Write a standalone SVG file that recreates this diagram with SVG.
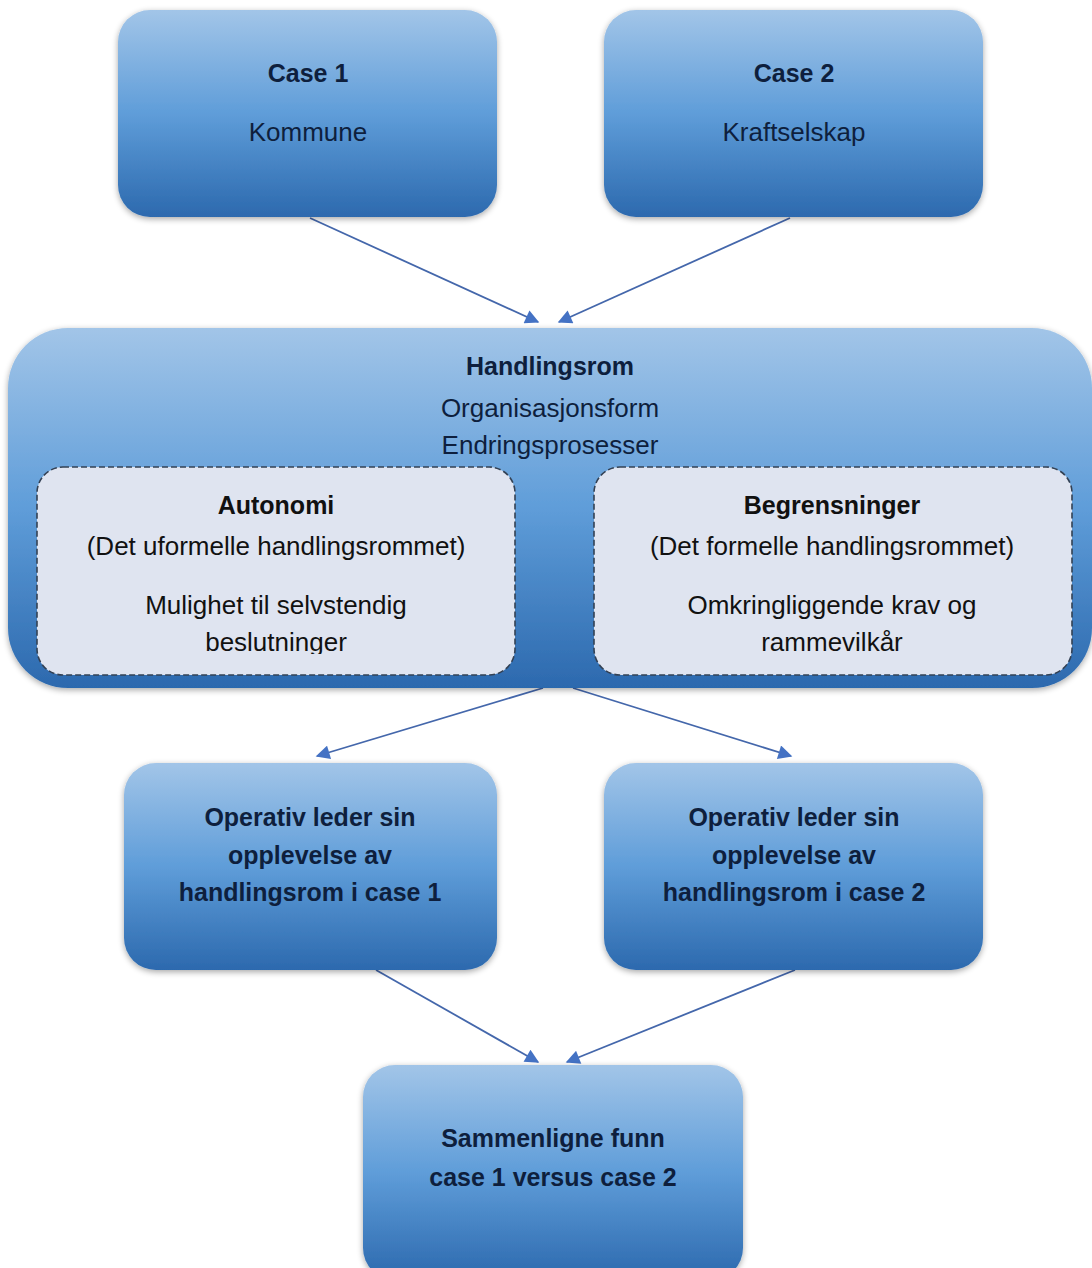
<svg xmlns="http://www.w3.org/2000/svg" width="1092" height="1268" viewBox="0 0 1092 1268">
<defs>
<linearGradient id="blue" x1="0" y1="0" x2="0" y2="1">
<stop offset="0" stop-color="#a2c5e8"/>
<stop offset="0.5" stop-color="#5f9dd9"/>
<stop offset="1" stop-color="#2c69ae"/>
</linearGradient>
<filter id="sh" x="-10%" y="-10%" width="120%" height="125%">
<feGaussianBlur in="SourceAlpha" stdDeviation="3"/>
<feOffset dx="0" dy="2"/>
<feComponentTransfer><feFuncA type="linear" slope="0.35"/></feComponentTransfer>
<feMerge><feMergeNode/><feMergeNode in="SourceGraphic"/></feMerge>
</filter>
<marker id="ah" viewBox="0 0 10 10" refX="9" refY="5" markerWidth="16" markerHeight="14" markerUnits="userSpaceOnUse" orient="auto">
<path d="M0,0 L10,5 L0,10 z" fill="#4472c4"/>
</marker>
<clipPath id="clipL"><rect x="37" y="467" width="478" height="187"/></clipPath>
<clipPath id="clipR"><rect x="594" y="467" width="478" height="187"/></clipPath>
<style>
.box{fill:url(#blue);filter:url(#sh);}
.inner{fill:#dfe4f0;stroke:#334154;stroke-width:1.6;stroke-dasharray:6 3;}
text{font-family:"Liberation Sans",Arial,sans-serif;font-size:26px;text-anchor:middle;}
.dk{fill:#0e1f3d;}
.bk{fill:#111;}
.b{font-weight:bold;font-size:25px;}
.conn{stroke:#4467ab;stroke-width:1.8;fill:none;marker-end:url(#ah);}
</style>
</defs>
<rect width="1092" height="1268" fill="#ffffff"/>
<g id="connectors">
<line class="conn" x1="310" y1="218" x2="538" y2="322"/>
<line class="conn" x1="790" y1="218" x2="559" y2="322"/>
<line class="conn" x1="543" y1="688" x2="317" y2="756"/>
<line class="conn" x1="573" y1="688" x2="791" y2="756"/>
<line class="conn" x1="376" y1="970" x2="538" y2="1062"/>
<line class="conn" x1="795" y1="970" x2="567" y2="1062"/>
</g>
<g id="case1">
<rect class="box" x="118" y="10" width="379" height="207" rx="32"/>
<text class="dk b" x="308" y="82">Case 1</text>
<text class="dk" x="308" y="141">Kommune</text>
</g>
<g id="case2">
<rect class="box" x="604" y="10" width="379" height="207" rx="32"/>
<text class="dk b" x="794" y="82">Case 2</text>
<text class="dk" x="794" y="141">Kraftselskap</text>
</g>
<g id="handlingsrom">
<rect class="box" x="8" y="328" width="1084" height="360" rx="60"/>
<text class="dk b" x="550" y="375">Handlingsrom</text>
<text class="dk" x="550" y="417">Organisasjonsform</text>
<text class="dk" x="550" y="454">Endringsprosesser</text>
</g>
<g id="autonomi">
<rect class="inner" x="37" y="467" width="478" height="208" rx="26"/>
<g clip-path="url(#clipL)">
<text class="bk b" x="276" y="514">Autonomi</text>
<text class="bk" x="276" y="555">(Det uformelle handlingsrommet)</text>
<text class="bk" x="276" y="614">Mulighet til selvstendig</text>
<text class="bk" x="276" y="651">beslutninger</text>
</g>
</g>
<g id="begrensninger">
<rect class="inner" x="594" y="467" width="478" height="208" rx="26"/>
<g clip-path="url(#clipR)">
<text class="bk b" x="832" y="514">Begrensninger</text>
<text class="bk" x="832" y="555">(Det formelle handlingsrommet)</text>
<text class="bk" x="832" y="614">Omkringliggende krav og</text>
<text class="bk" x="832" y="651">rammevilkår</text>
</g>
</g>
<g id="operativ1">
<rect class="box" x="124" y="763" width="373" height="207" rx="32"/>
<text class="dk b" x="310" y="826">Operativ leder sin</text>
<text class="dk b" x="310" y="864">opplevelse av</text>
<text class="dk b" x="310" y="901">handlingsrom i case 1</text>
</g>
<g id="operativ2">
<rect class="box" x="604" y="763" width="379" height="207" rx="32"/>
<text class="dk b" x="794" y="826">Operativ leder sin</text>
<text class="dk b" x="794" y="864">opplevelse av</text>
<text class="dk b" x="794" y="901">handlingsrom i case 2</text>
</g>
<g id="sammenligne">
<rect class="box" x="363" y="1065" width="380" height="215" rx="32"/>
<text class="dk b" x="553" y="1147">Sammenligne funn</text>
<text class="dk b" x="553" y="1186">case 1 versus case 2</text>
</g>
</svg>
